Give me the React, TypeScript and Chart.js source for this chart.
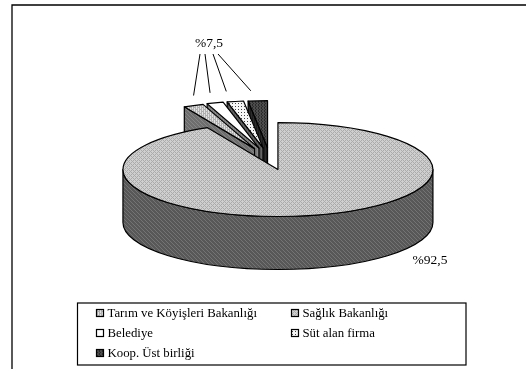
import { useEffect, useRef } from "react";
import { Chart, registerables } from "chart.js";

Chart.register(...registerables);

// Slices in clockwise order starting from twelve o'clock.
const categories = ["Sağlık Bakanlığı", "Tarım ve Köyişleri Bakanlığı", "Belediye", "Süt alan firma", "Koop. Üst birliği"];
const shares = [92.5, 2.1, 1.7, 1.7, 2.0];
const explode = [136, 156, 156, 156, 156];
const legendOrder = [1, 0, 2, 3, 4];
const smallGroupLabel = "%7,5";
const mainLabel = "%92,5";

const SQUASH = 0.303;
const DEPTH = 53;
const FONT = '"Liberation Serif", serif';

type Tile = { rows: string[]; colors: Record<string, string> };

const topTiles: Tile[] = [
  { rows: ["abab", "baaa", "abab", "aaba"], colors: { a: "#cfcfcf", b: "#ababab" } },
  { rows: ["abab", "bbab", "abab", "abbb"], colors: { a: "#e2e2e2", b: "#b0b0b0" } },
  { rows: ["a"], colors: { a: "#ffffff" } },
  { rows: ["aaa", "aba", "aaa"], colors: { a: "#f6f6f6", b: "#444444" } },
  { rows: ["abb", "bab", "abb"], colors: { a: "#2a2a2a", b: "#4c4c4c" } },
];

const sideTiles: Tile[] = [
  { rows: ["abaa", "aaba", "aaab", "baaa"], colors: { a: "#585858", b: "#747474" } },
  { rows: ["abaa", "aaba", "aaab", "baaa"], colors: { a: "#6e6e6e", b: "#868686" } },
  { rows: ["ab"], colors: { a: "#7a7a7a", b: "#8c8c8c" } },
  { rows: ["ab"], colors: { a: "#555555", b: "#666666" } },
  { rows: ["ab"], colors: { a: "#1c1c1c", b: "#2c2c2c" } },
];

const leaderStartX = [200, 205, 213, 218];
const leaderNudgeX = [0, -5, -9, -7];

function makePattern(ctx: CanvasRenderingContext2D, tile: Tile) {
  const h = tile.rows.length;
  const w = tile.rows[0].length;
  const c = document.createElement("canvas");
  c.width = w;
  c.height = h;
  const t = c.getContext("2d")!;
  tile.rows.forEach((row, y) =>
    [...row].forEach((ch, x) => {
      t.fillStyle = tile.colors[ch];
      t.fillRect(x, y, 1, 1);
    })
  );
  return ctx.createPattern(c, "repeat")!;
}

// Where a slice lands on the flattened disc once its explosion is applied.
function projected(arc: any) {
  const offset = (arc.options.offset || 0) / 4;
  const mid = (arc.startAngle + arc.endAngle) / 2;
  const sweep = arc.endAngle - arc.startAngle;
  const r = arc.outerRadius + offset * (1 - Math.sin(Math.min(Math.PI, sweep)));
  return {
    x: arc.x + Math.cos(mid) * offset,
    y: arc.y + Math.sin(mid) * offset * SQUASH,
    r,
    start: arc.startAngle,
    end: arc.endAngle,
    mid,
  };
}

function rimPoint(p: ReturnType<typeof projected>, angle: number) {
  return { x: p.x + Math.cos(angle) * p.r, y: p.y + Math.sin(angle) * p.r * SQUASH };
}

const disc3d = {
  id: "disc3d",
  beforeDatasetDraw(chart: any, args: any) {
    const ctx: CanvasRenderingContext2D = chart.ctx;
    const arcs = args.meta.data;
    const sides = sideTiles.map((t) => makePattern(ctx, t));

    const paintTop = (arc: any) => {
      const p = projected(arc);
      ctx.beginPath();
      ctx.moveTo(p.x, p.y);
      ctx.ellipse(p.x, p.y, p.r, p.r * SQUASH, 0, p.start, p.end);
      ctx.closePath();
      ctx.fillStyle = arc.options.backgroundColor;
      ctx.fill();
      ctx.stroke();
    };

    ctx.save();
    ctx.strokeStyle = "#000";
    ctx.lineWidth = 1.2;
    ctx.lineJoin = "round";

    // Back to front: the small wedges first, each with its cut face.
    for (let i = arcs.length - 1; i >= 1; i--) {
      const p = projected(arcs[i]);
      const outer = rimPoint(p, p.start);
      ctx.beginPath();
      ctx.moveTo(outer.x, outer.y);
      ctx.lineTo(p.x, p.y);
      ctx.lineTo(p.x, p.y + DEPTH);
      ctx.lineTo(outer.x, outer.y + DEPTH);
      ctx.closePath();
      ctx.fillStyle = sides[i];
      ctx.fill();
      ctx.stroke();
      paintTop(arcs[i]);
    }

    // The large slice: its visible rim runs under the front of the disc.
    const main = projected(arcs[0]);
    ctx.beginPath();
    ctx.ellipse(main.x, main.y, main.r, main.r * SQUASH, 0, 0, Math.PI);
    ctx.ellipse(main.x, main.y + DEPTH, main.r, main.r * SQUASH, 0, Math.PI, 0, true);
    ctx.closePath();
    ctx.fillStyle = sides[0];
    ctx.fill();
    ctx.stroke();
    paintTop(arcs[0]);
    ctx.restore();
    return false;
  },
  afterDraw(chart: any) {
    const ctx: CanvasRenderingContext2D = chart.ctx;
    const arcs = chart.getDatasetMeta(0).data;
    ctx.save();

    // Chart frame: top and left rules only.
    ctx.strokeStyle = "#000";
    ctx.lineWidth = 1.3;
    ctx.beginPath();
    ctx.moveTo(526, 5);
    ctx.lineTo(12, 5);
    ctx.lineTo(12, 369);
    ctx.stroke();

    // Group label with leader lines to the four small wedges.
    ctx.fillStyle = "#000";
    ctx.textBaseline = "middle";
    ctx.textAlign = "center";
    ctx.font = `13.5px ${FONT}`;
    ctx.fillText(smallGroupLabel, 209, 43);
    ctx.fillText(mainLabel, 430, 260);
    ctx.lineWidth = 1;
    for (let i = 1; i < arcs.length; i++) {
      const p = projected(arcs[i]);
      const end = rimPoint(p, p.mid);
      ctx.beginPath();
      ctx.moveTo(leaderStartX[i - 1], 54);
      ctx.lineTo(end.x + leaderNudgeX[i - 1], end.y - 10);
      ctx.stroke();
    }

    // Legend box.
    ctx.lineWidth = 1.2;
    ctx.strokeRect(77.5, 303, 388.5, 62);
    ctx.textAlign = "left";
    ctx.font = `12.8px ${FONT}`;
    legendOrder.forEach((idx, n) => {
      const col = n % 2;
      const row = Math.floor(n / 2);
      const x = col === 0 ? 96.5 : 291.5;
      const y = 309.5 + row * 20;
      ctx.fillStyle = arcs[idx].options.backgroundColor;
      ctx.fillRect(x, y, 7, 7);
      ctx.strokeRect(x, y, 7, 7);
      ctx.fillStyle = "#000";
      ctx.fillText(categories[idx], x + 11, y + 4);
    });
    ctx.restore();
  },
};

export default function App() {
  const ref = useRef<HTMLCanvasElement>(null);

  useEffect(() => {
    const canvas = ref.current!;
    const ctx = canvas.getContext("2d")!;
    const tops = topTiles.map((t) => makePattern(ctx, t));
    const chart = new Chart(canvas, {
      type: "pie",
      data: {
        labels: categories,
        datasets: [
          {
            data: shares,
            backgroundColor: tops,
            borderWidth: 0,
            offset: explode,
            hoverOffset: 0,
            clip: false,
          } as any,
        ],
      },
      options: {
        animation: false,
        responsive: false,
        events: [],
        radius: 121,
        layout: { padding: { left: 14, right: 0, top: 0, bottom: 50 } },
        plugins: { legend: { display: false }, tooltip: { enabled: false }, title: { display: false } },
      } as any,
      plugins: [disc3d],
    });
    return () => chart.destroy();
  }, []);

  return (
    <div style={{ position: "fixed", left: 0, top: 0, width: 526, height: 369, background: "#fff" }}>
      <canvas ref={ref} width={526} height={369} style={{ display: "block" }} />
    </div>
  );
}
